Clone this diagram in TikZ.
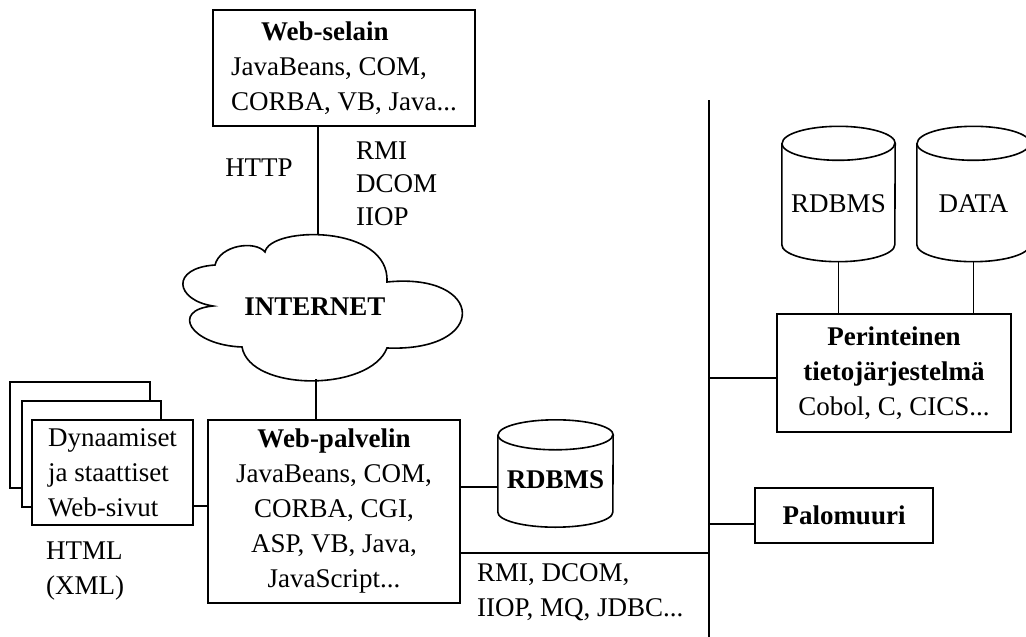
\documentclass[tikz,border=0pt]{standalone}
\usepackage{fontspec}
\setmainfont{Liberation Serif}
\newcommand\fs{\fontsize{27}{35}\selectfont}
\newcommand\dbcyl[3]{%
  \draw[line] ([yshift=-#3]#1.north west) -- ([yshift=#3]#1.south west)
     arc[start angle=180,end angle=360,x radius=#2,y radius=#3]
     -- ([yshift=-#3]#1.north east)
     arc[start angle=0,end angle=180,x radius=#2,y radius=#3];
  \draw[line] ([yshift=-#3]#1.north west)
     arc[start angle=180,end angle=360,x radius=#2,y radius=#3];}
\begin{document}
\begin{tikzpicture}[x=1pt,y=-1pt,
  line/.style={line width=1.6pt},
  box/.style={draw,line width=1.6pt,fill=white,inner sep=0pt,font=\fs},
  lbl/.style={inner sep=0pt,font=\fs,align=left},
  dbnode/.style={inner sep=0pt,font=\fs}]
\fill[white] (0,0) rectangle (1026,637);
\useasboundingbox (0,0) rectangle (1026,637);

% Web browser
\node[box,minimum width=262pt,minimum height=116pt,align=left] (selain) at (344,68)
  {\hspace*{30pt}\textbf{Web-selain}\\JavaBeans, COM,\\CORBA, VB, Java...};
\node[lbl] (http) at (259,168) {HTTP};
\node[lbl,anchor=west,font=\fontsize{27}{33}\selectfont] (rmi) at (356,184) {RMI\\DCOM\\IIOP};

% Internet cloud
\node[inner sep=0pt,font=\fs\bfseries] (inet) at (315,307) {INTERNET};
\draw[line] (265,252) .. controls (270,226) and (390,224) .. (387,282)
  .. controls (485,272) and (490,352) .. (387,348)
  .. controls (370,392) and (250,392) .. (242,347)
  .. controls (190,345) and (170,310) .. (213,306)
  .. controls (175,300) and (170,268) .. (215,265)
  .. controls (220,245) and (255,240) .. (265,252) -- cycle;
\coordinate (ctop) at (318,235);
\coordinate (cbot) at (316,379);

% Web server
\node[box,minimum width=252pt,minimum height=183pt,align=center] (pal) at (334,511.5)
  {\textbf{Web-palvelin}\\JavaBeans, COM,\\CORBA, CGI,\\ASP, VB, Java,\\JavaScript...};

% pages
\node[box,minimum width=140pt,minimum height=106pt] (p3) at (80,435) {};
\node[box,minimum width=139pt,minimum height=106pt] (p2) at (91.5,454) {};
\node[box,minimum width=161pt,minimum height=105pt,align=left] (p1) at (112.5,472.5)
  {Dynaamiset\\ja staattiset\\Web-sivut};
\node[lbl,anchor=west] (html) at (46,571) {HTML\\(XML)};

% middle database
\node[dbnode,font=\fs\bfseries,minimum width=115pt,minimum height=107pt] (db1) at (555.5,473.5) {\raisebox{-15pt}[0pt][0pt]{RDBMS}};
\dbcyl{db1}{57.5pt}{15pt}

% right databases
\node[dbnode,minimum width=113pt,minimum height=135pt] (db2) at (838.5,194) {\raisebox{-18pt}[0pt][0pt]{RDBMS}};
\dbcyl{db2}{56.5pt}{17pt}
\node[dbnode,minimum width=113pt,minimum height=135pt] (data) at (973.5,194) {\raisebox{-18pt}[0pt][0pt]{DATA}};
\dbcyl{data}{56.5pt}{17pt}

\node[box,minimum width=234pt,minimum height=118pt,align=center] (per) at (894,373)
  {\textbf{Perinteinen}\\\textbf{tietojärjestelmä}\\Cobol, C, CICS...};
\node[box,minimum width=178pt,minimum height=55pt,font=\fs\bfseries] (palo) at (844,515.5) {Palomuuri};

% bus
\coordinate (bt) at (709,100);
\coordinate (bb) at (709,640);
\node[lbl,anchor=west] (proto) at (477,592) {RMI, DCOM,\\IIOP, MQ, JDBC...};

% connectors
\draw[line] (selain.south -| ctop) -- (ctop);
\draw[line] (cbot) -- (pal.north -| cbot);
\draw[line] (p1.east |- 0,506) -- (pal.west |- 0,506);
\draw[line] (pal.east |- 0,487) -- (db1.west |- 0,487);
\draw[line] (pal.east |- 0,553) -- (bt |- 0,553);
\draw[line] (bt) -- (bb);
\draw[line] (bt |- 0,378) -- (per.west |- 0,378);
\draw[line] (bt |- 0,524) -- (palo.west |- 0,524);
\draw[line] (db2.south) -- (per.north -| db2.south);
\draw[line] (data.south) -- (per.north -| data.south);
\end{tikzpicture}
\end{document}
